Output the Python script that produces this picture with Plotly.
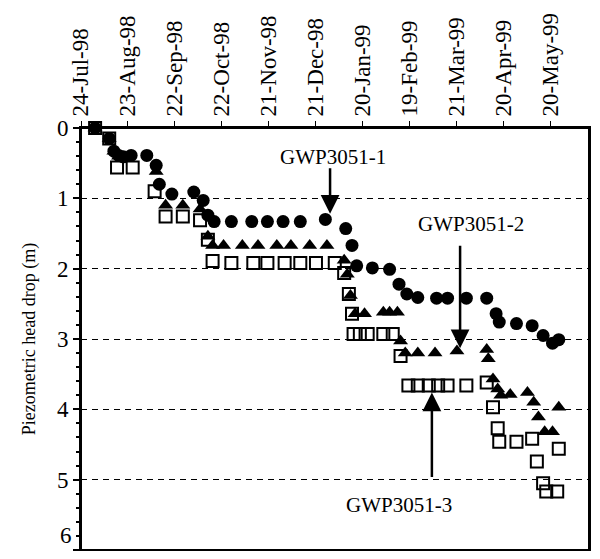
import plotly.graph_objects as go

# GWP3051-1 (filled circles)
c_dates = ["1998-08-02","1998-08-11","1998-08-14","1998-08-17","1998-08-20","1998-08-25","1998-09-04","1998-09-10","1998-09-12","1998-09-20",
           "1998-10-04","1998-10-10","1998-10-13","1998-10-17","1998-10-28","1998-11-10","1998-11-20","1998-11-30","1998-12-11","1998-12-27",
           "1999-01-09","1999-01-13","1999-01-16","1999-01-26","1999-02-06","1999-02-12","1999-02-17","1999-02-24","1999-03-08","1999-03-15",
           "1999-03-27","1999-04-09","1999-04-15","1999-04-17","1999-04-28","1999-05-08","1999-05-15","1999-05-21","1999-05-25"]
c_vals = [0,0.15,0.33,0.39,0.41,0.39,0.39,0.53,0.8,0.94,
          0.91,1.03,1.24,1.33,1.33,1.33,1.33,1.33,1.33,1.30,
          1.43,1.67,1.96,1.99,2.01,2.22,2.36,2.41,2.42,2.42,
          2.42,2.42,2.64,2.76,2.78,2.81,2.95,3.06,3.01]

# GWP3051-2 (filled triangles)
t_dates = ["1998-08-02","1998-08-11","1998-08-14","1998-08-17","1998-09-10","1998-09-16","1998-09-27","1998-10-08","1998-10-13","1998-10-16",
           "1998-10-23","1998-11-04","1998-11-14","1998-11-26","1998-12-05","1998-12-17","1998-12-28","1999-01-08","1999-01-10","1999-01-12",
           "1999-01-15","1999-01-21","1999-02-02","1999-02-06","1999-02-11","1999-02-13","1999-02-16","1999-02-24","1999-03-07","1999-03-21",
           "1999-04-09","1999-04-10","1999-04-13","1999-04-16","1999-04-18","1999-04-24","1999-05-05","1999-05-09","1999-05-12","1999-05-16",
           "1999-05-21","1999-05-25"]
t_vals = [0,0.15,0.33,0.4,0.62,1.10,1.10,1.15,1.54,1.67,
          1.67,1.67,1.67,1.67,1.67,1.67,1.67,1.88,2.08,2.38,
          2.64,2.64,2.62,2.62,2.62,3.03,3.20,3.20,3.20,3.17,
          3.15,3.28,3.57,3.71,3.80,3.79,3.76,3.90,4.11,4.32,
          4.32,3.97]

# GWP3051-3 (open squares)
s_dates = ["1998-08-02","1998-08-11","1998-08-16","1998-08-26","1998-09-09","1998-09-16","1998-09-27","1998-10-08","1998-10-13","1998-10-16",
           "1998-10-28","1998-11-11","1998-11-20","1998-12-01","1998-12-11","1998-12-21","1999-01-02","1999-01-08","1999-01-11","1999-01-13",
           "1999-01-14","1999-01-18","1999-01-23","1999-02-02","1999-02-08","1999-02-13","1999-02-18","1999-02-24","1999-03-03","1999-03-09",
           "1999-03-15","1999-03-27","1999-04-09","1999-04-13","1999-04-16","1999-04-17","1999-04-28","1999-05-08","1999-05-11","1999-05-15",
           "1999-05-17","1999-05-24","1999-05-25"]
s_vals = [0,0.15,0.56,0.56,0.9,1.26,1.26,1.31,1.59,1.89,
          1.92,1.92,1.92,1.92,1.92,1.92,1.92,2.06,2.36,2.64,
          2.93,2.93,2.93,2.93,2.93,3.24,3.66,3.66,3.66,3.66,
          3.66,3.66,3.62,3.97,4.27,4.46,4.46,4.42,4.74,5.05,
          5.17,5.17,4.56]

y_ticks = [0, 1, 2, 3, 4, 5, 6]
y_title = "Piezometric head drop (m)"
labels = ["GWP3051-1", "GWP3051-2", "GWP3051-3"]

FONT = "Liberation Serif"

fig = go.Figure()
fig.add_trace(go.Scatter(x=s_dates, y=s_vals, mode="markers", name=labels[2], cliponaxis=False,
                         marker=dict(symbol="square-open", size=12, color="black", line=dict(width=2, color="black"))))
fig.add_trace(go.Scatter(x=t_dates, y=t_vals, mode="markers", name=labels[1], cliponaxis=False,
                         marker=dict(symbol="triangle-up", size=13, color="black")))
fig.add_trace(go.Scatter(x=c_dates, y=c_vals, mode="markers", name=labels[0], cliponaxis=False,
                         marker=dict(symbol="circle", size=13, color="black")))

# arrows
arrow_specs = [("1998-12-30", 1.22, -47), ("1999-03-23", 3.13, -104), ("1999-03-05", 3.76, 86)]
for xd, yv, ayv in arrow_specs:
    fig.add_annotation(x=xd, y=yv, ax=0, ay=ayv, text="", showarrow=True, arrowhead=2,
                       arrowsize=1.5, arrowwidth=2.5, arrowcolor="black", standoff=0)

text_specs = [("1999-01-01", 0.41, labels[0]), ("1999-03-30", 1.37, labels[1]), ("1999-02-12", 5.36, labels[2])]
for xd, yv, t in text_specs:
    fig.add_annotation(x=xd, y=yv, text=t, showarrow=False, font=dict(family=FONT, size=21, color="black"))

# last y tick label lifted slightly so that it stays inside the page
fig.add_annotation(xref="paper", x=0, xshift=-7, xanchor="right", y=y_ticks[-1], yanchor="bottom",
                   text=str(y_ticks[-1]), showarrow=False, font=dict(family=FONT, size=23, color="black"))

# frame around the plot area
fig.add_shape(type="rect", xref="paper", yref="paper", x0=0, x1=1, y0=0, y1=1,
              line=dict(color="black", width=2), layer="above")

# the page body has an 8px margin: keep the figure inside the window
fig.update_layout(
    width=584, height=543,
    margin=dict(l=73, r=3, t=120, b=1),
    paper_bgcolor="white", plot_bgcolor="white",
    showlegend=False,
    font=dict(family=FONT, color="black"),
)
fig.update_xaxes(
    type="date", side="top",
    range=["1998-07-24", "1999-06-13T07:00"],
    tick0="1998-07-24", dtick=30 * 86400000, tickformat="%d-%b-%y",
    tickangle=-90, tickfont=dict(family=FONT, size=23, color="black"),
    ticks="outside", ticklen=5, tickcolor="black", ticklabeloverflow="allow",
    showline=True, linecolor="black", linewidth=2, mirror=True,
    showgrid=False, zeroline=False, automargin=False,
)
fig.update_yaxes(
    range=[6, 0], tickvals=y_ticks, ticktext=[str(v) for v in y_ticks[:-1]] + [""],
    tickfont=dict(family=FONT, size=23, color="black"),
    ticks="outside", ticklen=6, tickcolor="black", tickwidth=1.5,
    minor=dict(dtick=0.2, ticks="outside", ticklen=3, tickcolor="black"),
    showline=True, linecolor="black", linewidth=2, mirror=True,
    showgrid=True, gridcolor="black", gridwidth=1, griddash="6px,5px",
    zeroline=False, automargin=False,
    title=dict(text=y_title, font=dict(family=FONT, size=18, color="black"), standoff=17),
)

fig.write_html("out.html")
